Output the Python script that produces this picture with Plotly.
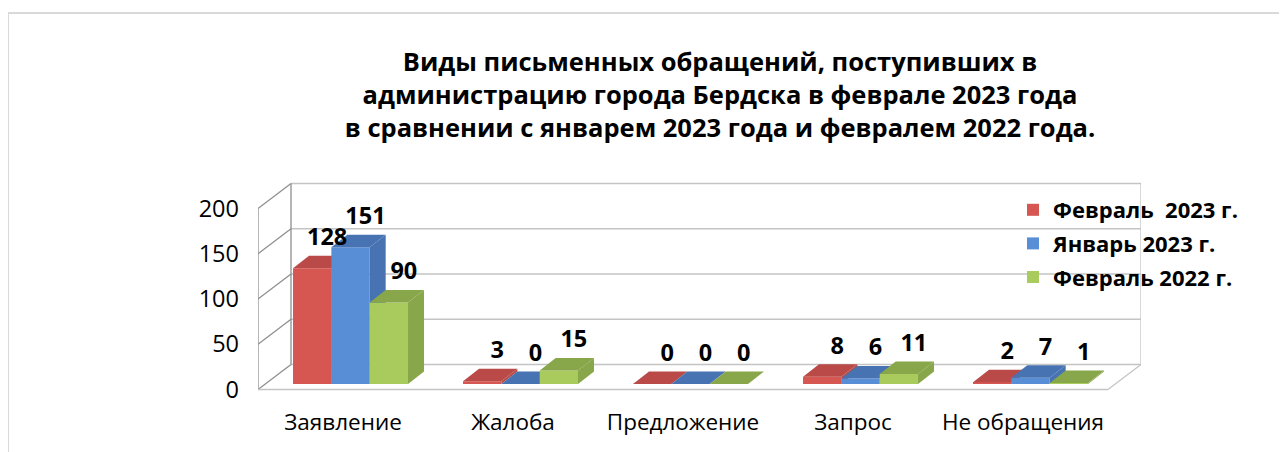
import plotly.graph_objects as go

# ---------------- data ----------------
categories = ["Заявление", "Жалоба", "Предложение", "Запрос", "Не обращения"]
series_names = ["Февраль  2023 г.", "Январь 2023 г.", "Февраль 2022 г."]
feb_2023 = [128, 3, 0, 8, 2]
jan_2023 = [151, 0, 0, 6, 7]
feb_2022 = [90, 15, 0, 11, 1]
y_ticks = [0, 50, 100, 150, 200]
title_text = ("Виды письменных обращений, поступивших в<br>"
              "администрацию города Бердска в феврале 2023 года<br>"
              "в сравнении с январем 2023 года и февралем 2022 года.")

# ---------------- style ----------------
front_colors = ["#D65652", "#588ED6", "#A9CB5D"]
shade_colors = ["#B94A47", "#4773B2", "#88A64A"]
FONT = "Open Sans"

OFF = 8  # page body margin
W, H = 1287, 452
ML, MR, MT, MB = 250, 154, 172, 68
PLOT_W = W - ML - MR
PLOT_H = H - MT - MB
PX_PER_CAT = 170.0
PX_PER_UNIT = 0.905
ZERO_PX = 381.5

x_range = [-0.5, -0.5 + PLOT_W / PX_PER_CAT]
y_range = [(ZERO_PX - (H - MB)) / PX_PER_UNIT, (ZERO_PX - MT) / PX_PER_UNIT]

# 3D geometry (in axis units)
WDX = 33 / PX_PER_CAT          # wall depth, x
WDY = 25 / PX_PER_UNIT         # wall depth, y
BDX = 16 / PX_PER_CAT          # bar depth, x
BDY = 12.5 / PX_PER_UNIT       # bar depth, y
LIFT = 5.5 / PX_PER_UNIT       # bar front face lifted off the floor edge
BAR_W = 0.2255
FIRST_OFF = -0.294
LABEL_DX = 0.088
LABEL_DY = 32

x_first, x_last = -0.5, len(categories) - 0.5

fig = go.Figure()

# ---------------- walls / grid (base subplot) ----------------
wall_light = "#C4C4C4"
wall_dark = "#8E8E8E"

def seg(xs, ys, color, axis="x"):
    fig.add_trace(go.Scatter(x=xs, y=ys, mode="lines", xaxis=axis, yaxis="y",
                             line=dict(color=color, width=1.3),
                             hoverinfo="skip", showlegend=False))

for t in y_ticks:
    seg([x_first + WDX, x_last + WDX], [t + WDY, t + WDY], wall_light)
for t in y_ticks:
    seg([x_first, x_first + WDX], [t, t + WDY], wall_dark)
seg([x_first, x_first], [y_ticks[0], y_ticks[-1]], wall_dark)
seg([x_first + WDX, x_first + WDX], [y_ticks[0] + WDY, y_ticks[-1] + WDY], wall_dark)
seg([x_first, x_last], [0, 0], wall_light)
seg([x_last, x_last + WDX], [0, WDY], wall_light)
seg([x_last + WDX, x_last + WDX], [WDY, y_ticks[-1] + WDY], wall_light)

# ---------------- bars ----------------
all_series = [feb_2023, jan_2023, feb_2022]
axes = ["x2", "x3", "x4"]
cat_idx = list(range(len(categories)))

for k, (name, vals) in enumerate(zip(series_names, all_series)):
    ax = axes[k]
    off = FIRST_OFF + k * BAR_W
    fig.add_trace(go.Bar(
        x=cat_idx, y=vals, base=LIFT, offset=off, width=BAR_W,
        xaxis=ax, yaxis="y", name=name,
        marker=dict(color=front_colors[k], line=dict(width=0)),
        legendgroup=name, hovertext=categories, hoverinfo="text+y",
    ))
    for i, v in zip(cat_idx, vals):
        xl = i + off
        xr = xl + BAR_W
        top = LIFT + v
        fig.add_trace(go.Scatter(
            x=[xl, xr, xr + BDX, xl + BDX, xl],
            y=[top, top, top + BDY, top + BDY, top],
            mode="lines", fill="toself", fillcolor=shade_colors[k],
            line=dict(width=0, color=shade_colors[k]),
            xaxis=ax, yaxis="y", hoverinfo="skip", showlegend=False))
        fig.add_trace(go.Scatter(
            x=[xr, xr, xr + BDX, xr + BDX, xr],
            y=[LIFT, top, top + BDY, LIFT + BDY, LIFT],
            mode="lines", fill="toself", fillcolor=shade_colors[k],
            line=dict(width=0, color=shade_colors[k]),
            xaxis=ax, yaxis="y", hoverinfo="skip", showlegend=False))

# ---------------- data labels ----------------
for k, vals in enumerate(all_series):
    off = FIRST_OFF + k * BAR_W
    fig.add_trace(go.Scatter(
        x=[i + off + BAR_W / 2 + LABEL_DX for i in cat_idx],
        y=[v + LIFT + LABEL_DY for v in vals],
        text=[str(v) for v in vals], mode="text",
        textfont=dict(family=FONT, size=23.5, color="black", weight="bold"),
        xaxis="x4", yaxis="y", hoverinfo="skip", showlegend=False,
        cliponaxis=False))

# ---------------- frame ----------------
def px_x(p):
    return (p - OFF - ML) / PLOT_W

def px_y(p):
    return (H - MB - (p - OFF)) / PLOT_H

fig.add_shape(type="line", xref="paper", yref="paper",
              x0=px_x(8), x1=px_x(W + 20), y0=px_y(13), y1=px_y(13),
              line=dict(color="#D9D9D9", width=2))
fig.add_shape(type="line", xref="paper", yref="paper",
              x0=px_x(8), x1=px_x(8), y0=px_y(13), y1=px_y(H + 20),
              line=dict(color="#D9D9D9", width=2))

hidden = dict(range=x_range, overlaying="x", anchor="y", visible=False,
              showgrid=False, zeroline=False)

fig.update_layout(
    width=W, height=H,
    margin=dict(l=ML, r=MR, t=MT, b=MB, pad=0),
    paper_bgcolor="white", plot_bgcolor="rgba(0,0,0,0)",
    barmode="overlay",
    font=dict(family=FONT, color="black"),
    title=dict(text=title_text, x=712 / W, xref="container", xanchor="center",
               y=1 - 63 / H, yref="container", yanchor="top",
               font=dict(family=FONT, size=25.5, color="black", weight="bold")),
    xaxis=dict(range=x_range, tickmode="array", tickvals=cat_idx, ticktext=categories,
               showgrid=False, zeroline=False, showline=False, ticks="",
               tickfont=dict(family=FONT, size=22.5, color="black"),
               ticklabelstandoff=14, fixedrange=True),
    xaxis2=hidden, xaxis3=hidden, xaxis4=hidden,
    yaxis=dict(range=y_range, tickmode="array", tickvals=y_ticks,
               showgrid=False, zeroline=False, showline=False, ticks="",
               tickfont=dict(family=FONT, size=23.5, color="black"),
               ticklabelstandoff=18, fixedrange=True),
    legend=dict(x=px_x(1013), y=px_y(189), xanchor="left", yanchor="top",
                font=dict(family=FONT, size=22, color="black", weight="bold"),
                tracegroupgap=2, bgcolor="rgba(0,0,0,0)"),
    showlegend=True,
)

fig.write_html("out.html")
